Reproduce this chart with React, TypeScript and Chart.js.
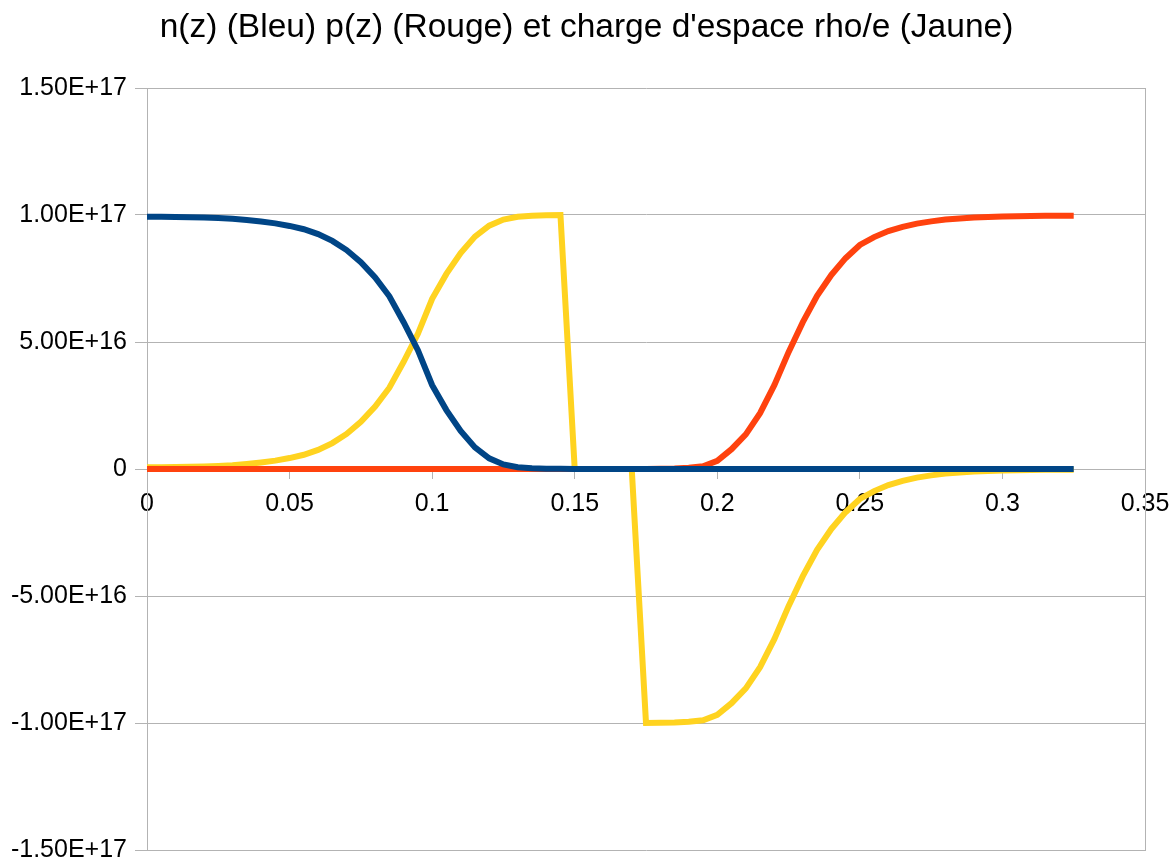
import React, { useEffect, useRef } from "react";
import { Chart, registerables } from "chart.js";

Chart.register(...registerables);

// Position z (step 0.005)
const depth = [
  0, 0.005, 0.01, 0.015, 0.02, 0.025, 0.03, 0.035, 0.04, 0.045,
  0.05, 0.055, 0.06, 0.065, 0.07, 0.075, 0.08, 0.085, 0.09, 0.095,
  0.1, 0.105, 0.11, 0.115, 0.12, 0.125, 0.13, 0.135, 0.14, 0.145,
  0.15, 0.155, 0.16, 0.165, 0.17, 0.175, 0.18, 0.185, 0.19, 0.195,
  0.2, 0.205, 0.21, 0.215, 0.22, 0.225, 0.23, 0.235, 0.24, 0.245,
  0.25, 0.255, 0.26, 0.265, 0.27, 0.275, 0.28, 0.285, 0.29, 0.295,
  0.3, 0.305, 0.31, 0.315, 0.32, 0.325,
];

// Concentrations in units of 1e17
const UNIT = 1e17;

// n(z) — electrons (Bleu)
const electrons = [
  0.993, 0.993, 0.992, 0.991, 0.99, 0.988, 0.985, 0.98, 0.974, 0.967,
  0.957, 0.944, 0.925, 0.898, 0.862, 0.814, 0.754, 0.68, 0.578, 0.468,
  0.33, 0.232, 0.15, 0.085, 0.042, 0.018, 0.007, 0.003, 0.001, 0.0005,
  0, 0, 0, 0, 0, 0, 0, 0, 0, 0,
  0, 0, 0, 0, 0, 0, 0, 0, 0, 0,
  0, 0, 0, 0, 0, 0, 0, 0, 0, 0,
  0, 0, 0, 0, 0, 0,
];

// p(z) — holes (Rouge)
const holes = [
  0, 0, 0, 0, 0, 0, 0, 0, 0, 0,
  0, 0, 0, 0, 0, 0, 0, 0, 0, 0,
  0, 0, 0, 0, 0, 0, 0, 0, 0, 0,
  0, 0, 0, 0, 0, 0, 0.001, 0.002, 0.005, 0.011,
  0.032, 0.078, 0.136, 0.22, 0.33, 0.46, 0.578, 0.682, 0.764, 0.83,
  0.882, 0.913, 0.937, 0.953, 0.966, 0.975, 0.982, 0.986, 0.99, 0.992,
  0.994, 0.995, 0.996, 0.997, 0.997, 0.997,
];

// rho/e — space charge (Jaune)
const charge = [
  0.007, 0.007, 0.008, 0.009, 0.01, 0.012, 0.015, 0.02, 0.026, 0.033,
  0.043, 0.056, 0.075, 0.102, 0.138, 0.186, 0.246, 0.32, 0.422, 0.532,
  0.67, 0.768, 0.85, 0.915, 0.958, 0.982, 0.993, 0.997, 0.999, 0.9995,
  0, 0, 0, 0, 0, -1.0, -0.999, -0.998, -0.995, -0.989,
  -0.968, -0.922, -0.864, -0.78, -0.67, -0.54, -0.422, -0.318, -0.236, -0.17,
  -0.118, -0.087, -0.063, -0.047, -0.034, -0.025, -0.018, -0.014, -0.01, -0.008,
  -0.006, -0.005, -0.004, -0.003, -0.003, -0.003,
];

const TITLE = "n(z) (Bleu) p(z) (Rouge) et charge d'espace rho/e (Jaune)";
const FONT = "'Liberation Sans', Arial, sans-serif";
const GRID = "#b3b3b3";

const toPoints = (values: number[]) =>
  values.map((v, i) => ({ x: depth[i], y: v * UNIT }));

export default function App() {
  const canvasRef = useRef<HTMLCanvasElement | null>(null);

  useEffect(() => {
    document.body.style.margin = "0";
    const canvas = canvasRef.current;
    if (!canvas) return;

    const line = (label: string, values: number[], color: string, order: number) => ({
      label,
      data: toPoints(values),
      borderColor: color,
      backgroundColor: color,
      borderWidth: 6,
      pointRadius: 0,
      pointHoverRadius: 0,
      tension: 0,
      fill: false,
      order,
    });

    const chart = new Chart(canvas, {
      type: "line",
      data: {
        datasets: [
          line("n(z)", electrons, "#004586", 0),
          line("p(z)", holes, "#ff420e", 1),
          line("rho/e", charge, "#ffd320", 2),
        ],
      },
      options: {
        animation: false,
        responsive: false,
        devicePixelRatio: 1,
        layout: { padding: { left: 0, right: 0, top: 0, bottom: 13 } },
        plugins: {
          legend: { display: false },
          tooltip: { enabled: false },
          title: {
            display: true,
            text: TITLE,
            color: "#000000",
            font: { family: FONT, size: 33.5, weight: "normal" },
            padding: { top: 8, bottom: 39.8 },
          },
        },
        scales: {
          x: {
            type: "linear",
            position: { y: 0 },
            min: 0,
            max: 0.35,
            afterFit: (scale: any) => {
              scale.paddingLeft = 0;
              scale.paddingRight = 0;
            },
            grid: {
              drawOnChartArea: false,
              drawTicks: true,
              tickLength: 9,
              color: GRID,
            },
            border: { display: true, color: GRID },
            ticks: {
              stepSize: 0.05,
              padding: 11,
              color: "#000000",
              font: { family: FONT, size: 25 },
              maxRotation: 0,
              callback: (v: any) => String(Number(Number(v).toFixed(3))),
            },
          },
          y: {
            type: "linear",
            position: "left",
            min: -1.5e17,
            max: 1.5e17,
            afterFit: (scale: any) => {
              scale.width = 147;
              scale.paddingTop = 0;
              scale.paddingBottom = 0;
            },
            grid: {
              color: GRID,
              lineWidth: 1,
              drawTicks: true,
              tickLength: 12,
            },
            border: { display: true, color: GRID },
            ticks: {
              stepSize: 5e16,
              padding: 8,
              color: "#000000",
              font: { family: FONT, size: 25 },
              callback: (v: any) => {
                const n = Number(v);
                if (Math.abs(n) < 1e10) return "0";
                return n.toExponential(2).toUpperCase();
              },
            },
          },
          frame: {
            type: "linear",
            position: "right",
            min: -1.5e17,
            max: 1.5e17,
            afterFit: (scale: any) => {
              scale.width = 28;
              scale.paddingTop = 0;
              scale.paddingBottom = 0;
            },
            grid: { display: false, drawOnChartArea: false },
            border: { display: true, color: GRID },
            ticks: { display: false },
          },
        },
      } as any,
    });

    return () => chart.destroy();
  }, []);

  return (
    <div style={{ width: 1173, height: 863, background: "#ffffff" }}>
      <canvas ref={canvasRef} width={1173} height={863} style={{ display: "block" }} />
    </div>
  );
}
